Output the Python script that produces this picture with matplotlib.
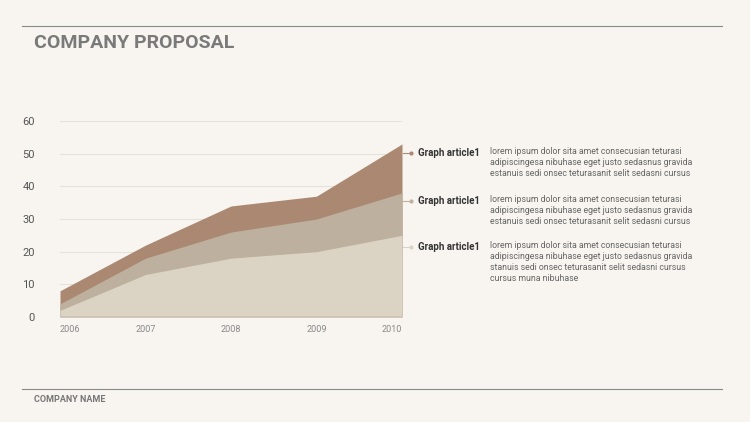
import matplotlib
matplotlib.use("Agg")
import matplotlib.pyplot as plt

years = [2006, 2007, 2008, 2009, 2010]
base = [2, 13, 18, 20, 25]
middle = [4, 18, 26, 30, 38]
top = [8, 22, 34, 37, 53]
labels = ["Graph article1", "Graph article1", "Graph article1"]
texts = [
    "lorem ipsum dolor sita amet consecusian teturasi\nadipiscingesa nibuhase eget justo sedasnus gravida\nestanuis sedi onsec teturasanit selit sedasni cursus",
    "lorem ipsum dolor sita amet consecusian teturasi\nadipiscingesa nibuhase eget justo sedasnus gravida\nestanuis sedi onsec teturasanit selit sedasni cursus",
    "lorem ipsum dolor sita amet consecusian teturasi\nadipiscingesa nibuhase eget justo sedasnus gravida\nstanuis sedi onsec teturasanit selit sedasni cursus\ncursus muna nibuhase",
]

bg = "#f8f5f0"
c_top, c_mid, c_base = "#ab8872", "#bdb09e", "#dbd4c4"
plt.rcParams['font.family'] = ['Roboto', 'DejaVu Sans']

fig = plt.figure(figsize=(7.5, 4.22), dpi=100, facecolor=bg)
ax = fig.add_axes([0.08, 0.249, 0.456, 0.464], facecolor=bg)
ax.fill_between(years, 0, top, color=c_top, lw=0)
ax.fill_between(years, 0, middle, color=c_mid, lw=0)
ax.fill_between(years, 0, base, color=c_base, lw=0)
ax.set_xlim(2006, 2010)
ax.set_ylim(0, 60)
ax.set_yticks(range(0, 61, 10))
ax.set_xticks(years)
ax.grid(axis='y', color="#e6e1da", lw=0.8)
ax.set_axisbelow(True)
for s in ax.spines.values():
    s.set_visible(False)
ax.axhline(0, color="#c9c1b5", lw=1.2)
ax.tick_params(length=0)
ax.tick_params(axis='y', labelsize=8, labelcolor="#555555", pad=18)
ax.tick_params(axis='x', labelsize=6.5, labelcolor="#888888", pad=6)
xl = ax.get_xticklabels()
xl[0].set_horizontalalignment('left')
xl[-1].set_horizontalalignment('right')

# legend annotations on the right
ys = [153, 201, 247]
cols = [c_top, c_mid, c_base]
for y, lab, txt, c in zip(ys, labels, texts, cols):
    fy = 1 - y / 422
    fig.add_artist(plt.Line2D([403 / 750, 411 / 750], [fy, fy], color=c, lw=0.8))
    fig.add_artist(plt.Line2D([411 / 750], [fy], marker='o', ms=2, color=c))
    fig.text(418 / 750, fy, lab, fontsize=7, fontweight='bold', color="#333333", va='center')
    fig.text(490 / 750, 1 - (y - 6) / 422, txt, fontsize=6.3, color="#666666", va='top', linespacing=1.3)

# header / footer
fig.add_artist(plt.Line2D([22 / 750, 722 / 750], [1 - 26 / 422] * 2, color="#888888", lw=0.8))
fig.text(34 / 750, 1 - 43 / 422, "COMPANY PROPOSAL", fontsize=14, fontweight='bold', color="#7a7a7a", va='center')
fig.add_artist(plt.Line2D([22 / 750, 722 / 750], [1 - 389 / 422] * 2, color="#888888", lw=0.8))
fig.text(34 / 750, 1 - 400 / 422, "COMPANY NAME", fontsize=6.5, fontweight='bold', color="#777777", va='center')

fig.savefig("out.png", dpi=100, facecolor=bg)
